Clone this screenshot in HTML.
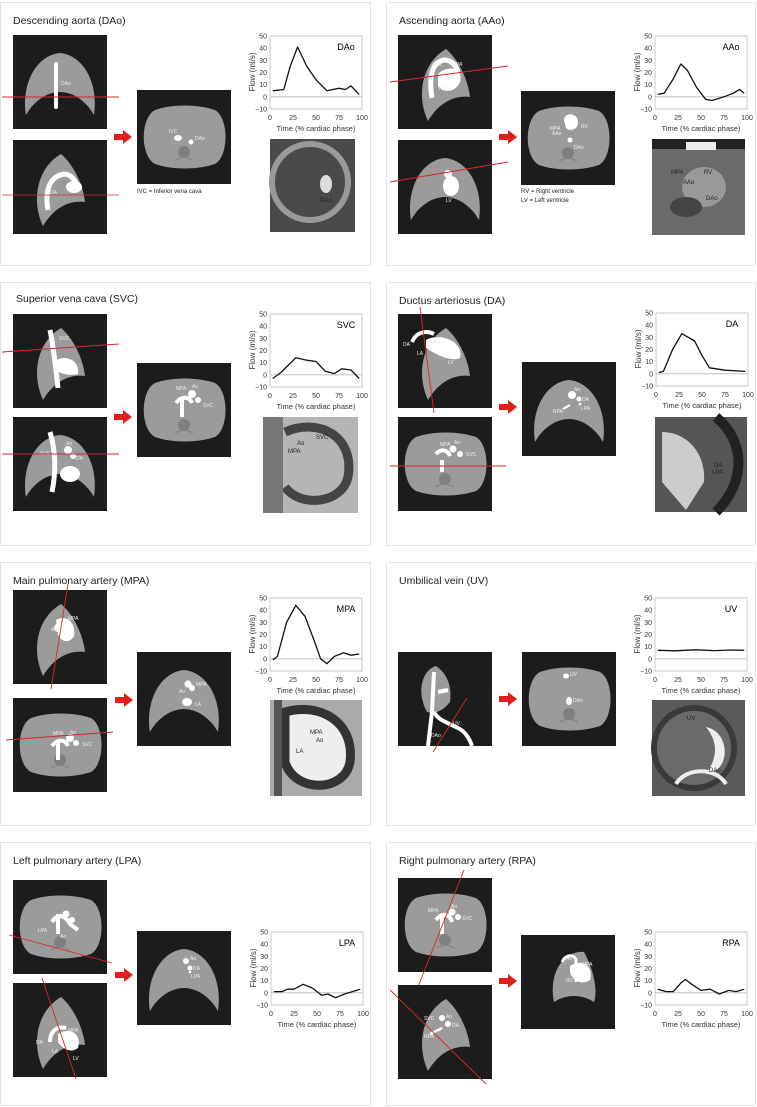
<!DOCTYPE html>
<html><head><meta charset="utf-8"><style>
html,body{margin:0;padding:0;background:#fff;}
svg{display:block;font-family:"Liberation Sans",Arial,sans-serif;}
.t{font-size:10.5px;fill:#222;}
.ax{font-size:7px;fill:#333;}
.lb{font-size:5px;fill:#eee;}
.lk{font-size:6px;fill:#222;}
.cv{fill:none;stroke:#111;stroke-width:1.3;stroke-linejoin:round;}
.rl{stroke:#d8262a;stroke-width:0.9;}
</style></head><body>
<svg width="757" height="1107" viewBox="0 0 757 1107">
<defs>
<symbol id="box" viewBox="0 0 94 94"><rect width="94" height="94" fill="#1c1c1c"/></symbol>
<symbol id="dome" viewBox="0 0 94 94"><rect width="94" height="94" fill="#1c1c1c"/><path d="M13,80 C8,48 24,20 47,18 C70,20 86,48 81,80 C72,64 58,57 47,57 C36,57 22,64 13,80Z" fill="#9b9b9b"/></symbol>
<symbol id="trans" viewBox="0 0 94 94"><rect width="94" height="94" fill="#1c1c1c"/><path d="M18,20 C35,14 60,14 78,20 C92,28 92,66 78,74 C60,80 35,80 18,74 C3,66 3,28 18,20Z" fill="#9b9b9b"/><circle cx="47" cy="62" r="6" fill="#808080"/><path d="M38,70 l9,-4 9,4" stroke="#808080" fill="none" stroke-width="1.2"/></symbol>
<symbol id="sag" viewBox="0 0 94 94"><rect width="94" height="94" fill="#1c1c1c"/><path d="M30,86 C18,60 24,28 48,14 C60,24 70,44 72,62 C58,60 42,66 30,86Z" fill="#9b9b9b"/></symbol>
<symbol id="arr" viewBox="0 0 18 14"><path d="M0,4 H9 V0 L18,7 L9,14 V10 H0Z" fill="#e0201b"/></symbol>
</defs>

<g fill="#fff" stroke="#e4e4e4" stroke-width="1">
<rect x="0.5" y="2.5" width="370" height="263"/>
<rect x="386.5" y="2.5" width="369" height="263"/>
<rect x="0.5" y="282.5" width="370" height="263"/>
<rect x="386.5" y="282.5" width="369" height="263"/>
<rect x="0.5" y="562.5" width="370" height="263"/>
<rect x="386.5" y="562.5" width="369" height="263"/>
<rect x="0.5" y="842.5" width="370" height="263"/>
<rect x="386.5" y="842.5" width="369" height="263"/>
</g>

<!-- P1 DAo -->
<g transform="translate(0,2)">
<text class="t" x="13" y="22">Descending aorta (DAo)</text>
<use href="#dome" x="13" y="33" width="94" height="94"/>
<rect x="54" y="60" width="4" height="47" rx="2" fill="#fff"/>
<text class="lb" x="61" y="83">DAo</text>
<line class="rl" x1="2" y1="95" x2="119" y2="95"/>
<use href="#sag" x="13" y="138" width="94" height="94"/>
<path d="M48,208 C44,185 52,174 64,172 C72,172 76,180 80,188" stroke="#fff" stroke-width="5" fill="none"/>
<ellipse cx="74" cy="185" rx="8" ry="6" fill="#fff"/>
<text class="lb" x="50" y="192">DA</text>
<line class="rl" x1="2" y1="193" x2="119" y2="193" opacity="0.7"/>
<use href="#arr" x="114" y="128" width="18" height="14"/>
<use href="#trans" x="137" y="88" width="94" height="94"/>
<ellipse cx="178" cy="136" rx="4" ry="3" fill="#fff"/><circle cx="191" cy="140" r="2.5" fill="#fff"/>
<text class="lb" x="169" y="131">IVC</text><text class="lb" x="195" y="138">DAo</text>
<text class="lk" x="137" y="191">IVC = Inferior vena cava</text>
<rect x="270" y="137" width="85" height="93" fill="#4a4a4a"/>
<circle cx="310" cy="180" r="38" fill="none" stroke="#999" stroke-width="6"/>
<ellipse cx="326" cy="182" rx="6" ry="9" fill="#ddd"/>
<text class="lk" x="320" y="200" fill="#111">DAo</text>
</g>

<!-- P2 AAo -->
<g transform="translate(386,2)">
<text class="t" x="13" y="22">Ascending aorta (AAo)</text>
<use href="#sag" x="12" y="33" width="94" height="94"/>
<path d="M46,96 C42,70 48,60 58,58 C66,58 70,64 72,70" stroke="#fff" stroke-width="5" fill="none"/>
<path d="M52,72 C62,62 78,66 74,80 C70,90 58,92 52,84Z" fill="#fff"/>
<text class="lb" x="46" y="64">AAo</text><text class="lb" x="66" y="64">MPA</text><text class="lb" x="53" y="88">RV</text>
<line class="rl" x1="4" y1="80" x2="122" y2="64"/>
<use href="#dome" x="12" y="138" width="94" height="94"/>
<ellipse cx="65" cy="184" rx="8" ry="10" fill="#fff"/><circle cx="62" cy="172" r="4" fill="#fff"/>
<text class="lb" x="60" y="200">LV</text>
<line class="rl" x1="4" y1="180" x2="122" y2="160"/>
<use href="#arr" x="113" y="128" width="18" height="14"/>
<use href="#trans" x="135" y="89" width="94" height="94"/>
<path d="M178,118 C178,110 192,110 192,120 C192,128 184,130 180,126Z" fill="#fff"/><circle cx="184" cy="138" r="2.5" fill="#fff"/>
<text class="lb" x="164" y="128">MPA</text><text class="lb" x="166" y="133">AAo</text><text class="lb" x="195" y="126">RV</text><text class="lb" x="188" y="147">DAo</text>
<text class="lk" x="135" y="191">RV = Right ventricle</text>
<text class="lk" x="135" y="200">LV = Left ventricle</text>
<rect x="266" y="137" width="93" height="96" fill="#6a6a6a"/>
<rect x="266" y="137" width="93" height="10" fill="#222"/>
<rect x="300" y="140" width="30" height="8" fill="#eee"/>
<ellipse cx="318" cy="185" rx="22" ry="20" fill="#999"/>
<ellipse cx="300" cy="205" rx="16" ry="10" fill="#444"/>
<text class="lk" x="285" y="172">MPA</text><text class="lk" x="297" y="182">AAo</text><text class="lk" x="318" y="172">RV</text><text class="lk" x="320" y="198">DAo</text>
</g>

<!-- P3 SVC -->
<g transform="translate(0,282)">
<text class="t" x="16" y="20">Superior vena cava (SVC)</text>
<use href="#sag" x="13" y="32" width="94" height="94"/>
<path d="M50,48 C54,68 56,88 58,106" stroke="#fff" stroke-width="5" fill="none"/>
<path d="M56,78 C68,72 80,80 78,92 C70,94 60,92 56,88Z" fill="#fff"/>
<text class="lb" x="59" y="58">SVC</text>
<line class="rl" x1="2" y1="70" x2="119" y2="62"/>
<use href="#dome" x="13" y="135" width="94" height="94"/>
<path d="M50,150 C56,170 56,190 52,210" stroke="#fff" stroke-width="5" fill="none"/>
<circle cx="68" cy="168" r="4" fill="#fff"/><circle cx="73" cy="174" r="3" fill="#fff"/>
<ellipse cx="70" cy="192" rx="10" ry="8" fill="#fff"/>
<text class="lb" x="40" y="173">SVC</text><text class="lb" x="66" y="163">Ao</text><text class="lb" x="76" y="178">DA</text>
<line class="rl" x1="2" y1="172" x2="119" y2="172"/>
<use href="#arr" x="114" y="128" width="18" height="14"/>
<use href="#trans" x="137" y="81" width="94" height="94"/>
<path d="M182,115 L182,135 M176,121 C182,113 190,115 192,121" stroke="#fff" stroke-width="4" fill="none"/>
<circle cx="192" cy="112" r="4" fill="#fff"/><circle cx="198" cy="118" r="3" fill="#fff"/>
<text class="lb" x="176" y="108">MPA</text><text class="lb" x="192" y="106">Ao</text><text class="lb" x="203" y="125">SVC</text>
<rect x="263" y="135" width="95" height="96" fill="#b5b5b5"/>
<path d="M285,150 C320,135 355,155 348,195 C342,222 300,226 285,205" fill="none" stroke="#444" stroke-width="9"/>
<rect x="263" y="135" width="20" height="96" fill="#777"/>
<text class="lk" x="316" y="157">SVC</text><text class="lk" x="297" y="163">Ao</text><text class="lk" x="288" y="171">MPA</text>
</g>

<!-- P4 DA -->
<g transform="translate(386,282)">
<text class="t" x="13" y="22">Ductus arteriosus (DA)</text>
<use href="#sag" x="12" y="32" width="94" height="94"/>
<path d="M26,60 C30,50 40,48 48,52" stroke="#fff" stroke-width="4" fill="none"/>
<path d="M40,58 C55,50 78,60 74,76 C66,80 52,74 40,66Z" fill="#fff"/>
<text class="lb" x="17" y="64">DA</text><text class="lb" x="44" y="62">MPA</text><text class="lb" x="31" y="73">LA</text><text class="lb" x="62" y="82">LV</text>
<line class="rl" x1="34" y1="25" x2="48" y2="131"/>
<use href="#trans" x="12" y="135" width="94" height="94"/>
<path d="M56,178 L56,190 M50,172 C55,166 62,168 64,174" stroke="#fff" stroke-width="4" fill="none"/>
<circle cx="67" cy="167" r="3.5" fill="#fff"/><circle cx="74" cy="172" r="3" fill="#fff"/>
<text class="lb" x="54" y="164">MPA</text><text class="lb" x="68" y="162">Ao</text><text class="lb" x="80" y="174">SVC</text>
<line class="rl" x1="4" y1="184" x2="120" y2="184"/>
<use href="#arr" x="113" y="118" width="18" height="14"/>
<use href="#dome" x="136" y="80" width="94" height="94"/>
<circle cx="186" cy="113" r="4" fill="#fff"/><circle cx="193" cy="117" r="2.5" fill="#fff"/><circle cx="194" cy="122" r="1.3" fill="#fff"/>
<path d="M177,127 L184,123" stroke="#fff" stroke-width="2"/>
<text class="lb" x="188" y="109">Ao</text><text class="lb" x="196" y="119">DA</text><text class="lb" x="167" y="131">RPA</text><text class="lb" x="195" y="128">LPA</text>
<rect x="269" y="135" width="92" height="95" fill="#555"/>
<path d="M276,150 C300,150 320,170 318,200 L300,228 L276,200Z" fill="#ccc"/>
<path d="M330,135 C360,160 360,200 330,230" fill="none" stroke="#222" stroke-width="10"/>
<text class="lk" x="328" y="185" fill="#111">DA</text><text class="lk" x="326" y="192" fill="#111">LPA</text>
</g>

<!-- P5 MPA -->
<g transform="translate(0,562)">
<text class="t" x="13" y="22">Main pulmonary artery (MPA)</text>
<use href="#sag" x="13" y="28" width="94" height="94"/>
<path d="M56,58 C66,52 76,60 74,74 C70,82 60,80 58,72Z" fill="#fff"/><circle cx="58" cy="66" r="4" fill="#fff"/>
<text class="lb" x="68" y="58">MPA</text><text class="lb" x="51" y="69">Ao</text>
<line class="rl" x1="68" y1="22" x2="51" y2="127"/>
<use href="#trans" x="13" y="136" width="94" height="94"/>
<path d="M58,178 L58,198 M52,184 C58,176 66,178 68,184" stroke="#fff" stroke-width="4" fill="none"/>
<circle cx="70" cy="176" r="4" fill="#fff"/><circle cx="76" cy="181" r="3" fill="#fff"/>
<text class="lb" x="53" y="173">MPA</text><text class="lb" x="70" y="172">Ao</text><text class="lb" x="82" y="184">SVC</text>
<line class="rl" x1="6" y1="178" x2="113" y2="170"/>
<use href="#arr" x="115" y="131" width="18" height="14"/>
<use href="#dome" x="137" y="90" width="94" height="94"/>
<circle cx="188" cy="122" r="3.5" fill="#fff"/><circle cx="192" cy="126" r="3" fill="#fff"/><ellipse cx="187" cy="140" rx="5" ry="4" fill="#fff"/>
<text class="lb" x="196" y="124">MPA</text><text class="lb" x="179" y="131">Ao</text><text class="lb" x="195" y="144">LA</text>
<rect x="270" y="138" width="92" height="96" fill="#aaa"/>
<path d="M285,150 C320,140 355,160 350,200 C345,230 295,232 285,200Z" fill="#eee" stroke="#333" stroke-width="9"/>
<path d="M278,138 L278,234" stroke="#555" stroke-width="8"/>
<text class="lk" x="310" y="172" fill="#111">MPA</text><text class="lk" x="316" y="180" fill="#111">Ao</text><text class="lk" x="296" y="191" fill="#111">LA</text>
</g>

<!-- P6 UV -->
<g transform="translate(386,562)">
<text class="t" x="13" y="22">Umbilical vein (UV)</text>
<use href="#box" x="12" y="90" width="94" height="94"/>
<path d="M41,150 C30,130 36,108 50,104 C62,112 66,126 64,140 C56,150 48,152 41,150Z" fill="#9b9b9b"/>
<path d="M48,110 L46,150 M52,130 L62,128 M48,150 C52,158 60,160 72,166 C80,170 84,178 86,184" stroke="#fff" stroke-width="4" fill="none"/>
<path d="M46,150 L42,184" stroke="#fff" stroke-width="4"/>
<text class="lb" x="67" y="163">UV</text><text class="lb" x="45" y="175">DAo</text>
<line class="rl" x1="47" y1="190" x2="81" y2="136"/>
<use href="#arr" x="113" y="130" width="18" height="14"/>
<use href="#trans" x="136" y="90" width="94" height="94"/>
<ellipse cx="180" cy="114" rx="3" ry="2.5" fill="#fff"/><ellipse cx="183" cy="139" rx="3" ry="4" fill="#fff"/>
<text class="lb" x="184" y="114">UV</text><text class="lb" x="187" y="140">DAo</text>
<rect x="266" y="138" width="93" height="96" fill="#5a5a5a"/>
<circle cx="308" cy="186" r="40" fill="#6a6a6a" stroke="#3a3a3a" stroke-width="6"/>
<path d="M320,165 C345,170 345,210 320,212 C332,195 332,180 320,165Z" fill="#eee"/>
<path d="M290,222 C300,205 330,205 340,222" fill="none" stroke="#eee" stroke-width="4"/>
<text class="lk" x="301" y="158" fill="#111">UV</text><text class="lk" x="323" y="210" fill="#111">DAo</text>
</g>

<!-- P7 LPA -->
<g transform="translate(0,842)">
<text class="t" x="13" y="22">Left pulmonary artery (LPA)</text>
<use href="#trans" x="13" y="38" width="94" height="94"/>
<path d="M58,72 L58,92 M52,80 C58,70 66,74 70,82 L78,88" stroke="#fff" stroke-width="4" fill="none"/>
<circle cx="66" cy="72" r="3.5" fill="#fff"/><circle cx="72" cy="78" r="3" fill="#fff"/>
<text class="lb" x="38" y="90">LPA</text><text class="lb" x="60" y="96">Ao</text>
<line class="rl" x1="9" y1="93" x2="112" y2="121"/>
<use href="#sag" x="13" y="141" width="94" height="94"/>
<path d="M50,200 C50,188 58,184 66,186" stroke="#fff" stroke-width="4" fill="none"/>
<path d="M58,192 C70,184 82,192 78,206 C70,212 62,206 58,200Z" fill="#fff"/>
<text class="lb" x="36" y="202">DA</text><text class="lb" x="68" y="190">MPA</text><text class="lb" x="52" y="211">LA</text><text class="lb" x="73" y="218">LV</text>
<line class="rl" x1="42" y1="136" x2="76" y2="237"/>
<use href="#arr" x="115" y="126" width="18" height="14"/>
<use href="#dome" x="137" y="89" width="94" height="94"/>
<circle cx="186" cy="119" r="3" fill="#fff"/><circle cx="190" cy="126" r="2.5" fill="#fff"/><circle cx="190" cy="130" r="1.3" fill="#fff"/>
<text class="lb" x="190" y="118">Ao</text><text class="lb" x="193" y="128">DA</text><text class="lb" x="191" y="136">LPA</text>
</g>

<!-- P8 RPA -->
<g transform="translate(386,842)">
<text class="t" x="13" y="22">Right pulmonary artery (RPA)</text>
<use href="#trans" x="12" y="36" width="94" height="94"/>
<path d="M56,72 L56,92 M50,78 C56,70 64,72 66,80" stroke="#fff" stroke-width="4" fill="none"/>
<circle cx="66" cy="70" r="3.5" fill="#fff"/><circle cx="72" cy="75" r="3" fill="#fff"/>
<text class="lb" x="42" y="70">MPA</text><text class="lb" x="65" y="66">Ao</text><text class="lb" x="76" y="78">SVC</text>
<line class="rl" x1="78" y1="28" x2="30" y2="150"/>
<use href="#sag" x="12" y="143" width="94" height="94"/>
<circle cx="56" cy="176" r="3" fill="#fff"/><circle cx="62" cy="182" r="3" fill="#fff"/>
<path d="M44,192 L56,186" stroke="#fff" stroke-width="2.5"/>
<text class="lb" x="38" y="178">SVC</text><text class="lb" x="60" y="176">Ao</text><text class="lb" x="66" y="185">DA</text><text class="lb" x="38" y="196">RPA</text>
<line class="rl" x1="4" y1="148" x2="100" y2="242"/>
<use href="#arr" x="113" y="132" width="18" height="14"/>
<use href="#box" x="135" y="93" width="94" height="94"/>
<path d="M168,160 C162,128 180,108 198,110 C208,128 212,150 208,160 C196,152 180,152 168,160Z" fill="#9b9b9b"/>
<path d="M176,120 C180,112 188,112 190,118 L190,140" stroke="#fff" stroke-width="3" fill="none"/>
<path d="M184,124 C196,116 208,124 204,138 C196,144 186,138 184,130Z" fill="#fff"/>
<text class="lb" x="180" y="118">Ao</text><text class="lb" x="196" y="124">MPA</text><text class="lb" x="180" y="140">RV</text>
</g>

<!-- charts -->
<g transform="translate(270,36)">
<rect width="92" height="73" fill="none" stroke="#bbb" stroke-width=".8"/><line x1="0" y1="60.8" x2="92" y2="60.8" stroke="#bbb" stroke-width=".8"/>
<g class="ax" text-anchor="end"><text x="-3" y="2.5">50</text><text x="-3" y="14.7">40</text><text x="-3" y="26.8">30</text><text x="-3" y="39">20</text><text x="-3" y="51.2">10</text><text x="-3" y="63.3">0</text><text x="-3" y="75.5">−10</text></g>
<g class="ax" text-anchor="middle"><text x="0" y="84">0</text><text x="23" y="84">25</text><text x="46" y="84">50</text><text x="69" y="84">75</text><text x="92" y="84">100</text><text x="46" y="95" style="font-size:7.5px">Time (% cardiac phase)</text></g>
<text class="ax" style="font-size:8px" text-anchor="middle" transform="translate(-15,36) rotate(-90)">Flow (ml/s)</text>
<text x="76" y="14" style="font-size:9px" text-anchor="middle">DAo</text>
<polyline class="cv" points="2.8,54.8 13.8,53.5 20.2,30.4 27.6,11 36.8,30.4 46,43.8 57,54.8 69,52.3 75.4,53.5 81,49.9 89.2,58.4"/>
</g>
<g transform="translate(655,36)">
<rect width="92" height="73" fill="none" stroke="#bbb" stroke-width=".8"/><line x1="0" y1="60.8" x2="92" y2="60.8" stroke="#bbb" stroke-width=".8"/>
<g class="ax" text-anchor="end"><text x="-3" y="2.5">50</text><text x="-3" y="14.7">40</text><text x="-3" y="26.8">30</text><text x="-3" y="39">20</text><text x="-3" y="51.2">10</text><text x="-3" y="63.3">0</text><text x="-3" y="75.5">−10</text></g>
<g class="ax" text-anchor="middle"><text x="0" y="84">0</text><text x="23" y="84">25</text><text x="46" y="84">50</text><text x="69" y="84">75</text><text x="92" y="84">100</text><text x="46" y="95" style="font-size:7.5px">Time (% cardiac phase)</text></g>
<text class="ax" style="font-size:8px" text-anchor="middle" transform="translate(-15,36) rotate(-90)">Flow (ml/s)</text>
<text x="76" y="14" style="font-size:9px" text-anchor="middle">AAo</text>
<polyline class="cv" points="2.8,58.4 9.2,57.2 18.4,42.6 25.8,28 32.2,34.1 41.4,51.1 50.6,63.3 57,64.5 69,60.8 78.2,57.2 84.6,53.5 89.2,57.2"/>
</g>
<g transform="translate(270,314)">
<rect width="92" height="73" fill="none" stroke="#bbb" stroke-width=".8"/><line x1="0" y1="60.8" x2="92" y2="60.8" stroke="#bbb" stroke-width=".8"/>
<g class="ax" text-anchor="end"><text x="-3" y="2.5">50</text><text x="-3" y="14.7">40</text><text x="-3" y="26.8">30</text><text x="-3" y="39">20</text><text x="-3" y="51.2">10</text><text x="-3" y="63.3">0</text><text x="-3" y="75.5">−10</text></g>
<g class="ax" text-anchor="middle"><text x="0" y="84">0</text><text x="23" y="84">25</text><text x="46" y="84">50</text><text x="69" y="84">75</text><text x="92" y="84">100</text><text x="46" y="95" style="font-size:7.5px">Time (% cardiac phase)</text></g>
<text class="ax" style="font-size:8px" text-anchor="middle" transform="translate(-15,36) rotate(-90)">Flow (ml/s)</text>
<text x="76" y="14" style="font-size:9px" text-anchor="middle">SVC</text>
<polyline class="cv" points="2.8,64.5 11,58.4 18.4,51.1 25.8,43.8 36.8,46.2 46,47.5 55.2,57.2 64.4,59.6 71.8,54.8 81,56 89.2,64.5"/>
</g>
<g transform="translate(656,313)">
<rect width="92" height="73" fill="none" stroke="#bbb" stroke-width=".8"/><line x1="0" y1="60.8" x2="92" y2="60.8" stroke="#bbb" stroke-width=".8"/>
<g class="ax" text-anchor="end"><text x="-3" y="2.5">50</text><text x="-3" y="14.7">40</text><text x="-3" y="26.8">30</text><text x="-3" y="39">20</text><text x="-3" y="51.2">10</text><text x="-3" y="63.3">0</text><text x="-3" y="75.5">−10</text></g>
<g class="ax" text-anchor="middle"><text x="0" y="84">0</text><text x="23" y="84">25</text><text x="46" y="84">50</text><text x="69" y="84">75</text><text x="92" y="84">100</text><text x="46" y="95" style="font-size:7.5px">Time (% cardiac phase)</text></g>
<text class="ax" style="font-size:8px" text-anchor="middle" transform="translate(-15,36) rotate(-90)">Flow (ml/s)</text>
<text x="76" y="14" style="font-size:9px" text-anchor="middle">DA</text>
<polyline class="cv" points="2.8,59.6 7.4,58.4 16.6,36.5 25.8,20.7 32.2,24.3 38.6,28 46,42.6 53.4,54.8 69,57.2 89.2,58.4"/>
</g>
<g transform="translate(270,598)">
<rect width="92" height="73" fill="none" stroke="#bbb" stroke-width=".8"/><line x1="0" y1="60.8" x2="92" y2="60.8" stroke="#bbb" stroke-width=".8"/>
<g class="ax" text-anchor="end"><text x="-3" y="2.5">50</text><text x="-3" y="14.7">40</text><text x="-3" y="26.8">30</text><text x="-3" y="39">20</text><text x="-3" y="51.2">10</text><text x="-3" y="63.3">0</text><text x="-3" y="75.5">−10</text></g>
<g class="ax" text-anchor="middle"><text x="0" y="84">0</text><text x="23" y="84">25</text><text x="46" y="84">50</text><text x="69" y="84">75</text><text x="92" y="84">100</text><text x="46" y="95" style="font-size:7.5px">Time (% cardiac phase)</text></g>
<text class="ax" style="font-size:8px" text-anchor="middle" transform="translate(-15,36) rotate(-90)">Flow (ml/s)</text>
<text x="76" y="14" style="font-size:9px" text-anchor="middle">MPA</text>
<polyline class="cv" points="2.8,62 7.4,58.4 16.6,24.3 25.8,7.3 35,18.3 44.2,42.6 50.6,60.8 57,65.7 64.4,58.4 73.6,54.8 81,57.2 89.2,56"/>
</g>
<g transform="translate(655,598)">
<rect width="92" height="73" fill="none" stroke="#bbb" stroke-width=".8"/><line x1="0" y1="60.8" x2="92" y2="60.8" stroke="#bbb" stroke-width=".8"/>
<g class="ax" text-anchor="end"><text x="-3" y="2.5">50</text><text x="-3" y="14.7">40</text><text x="-3" y="26.8">30</text><text x="-3" y="39">20</text><text x="-3" y="51.2">10</text><text x="-3" y="63.3">0</text><text x="-3" y="75.5">−10</text></g>
<g class="ax" text-anchor="middle"><text x="0" y="84">0</text><text x="23" y="84">25</text><text x="46" y="84">50</text><text x="69" y="84">75</text><text x="92" y="84">100</text><text x="46" y="95" style="font-size:7.5px">Time (% cardiac phase)</text></g>
<text class="ax" style="font-size:8px" text-anchor="middle" transform="translate(-15,36) rotate(-90)">Flow (ml/s)</text>
<text x="76" y="14" style="font-size:9px" text-anchor="middle">UV</text>
<polyline class="cv" points="2.8,52.3 20,52.8 40,51.8 60,52.6 75,52 89.2,52.3"/>
</g>
<g transform="translate(271,932)">
<rect width="92" height="73" fill="none" stroke="#bbb" stroke-width=".8"/><line x1="0" y1="60.8" x2="92" y2="60.8" stroke="#bbb" stroke-width=".8"/>
<g class="ax" text-anchor="end"><text x="-3" y="2.5">50</text><text x="-3" y="14.7">40</text><text x="-3" y="26.8">30</text><text x="-3" y="39">20</text><text x="-3" y="51.2">10</text><text x="-3" y="63.3">0</text><text x="-3" y="75.5">−10</text></g>
<g class="ax" text-anchor="middle"><text x="0" y="84">0</text><text x="23" y="84">25</text><text x="46" y="84">50</text><text x="69" y="84">75</text><text x="92" y="84">100</text><text x="46" y="95" style="font-size:7.5px">Time (% cardiac phase)</text></g>
<text class="ax" style="font-size:8px" text-anchor="middle" transform="translate(-15,36) rotate(-90)">Flow (ml/s)</text>
<text x="76" y="14" style="font-size:9px" text-anchor="middle">LPA</text>
<polyline class="cv" points="2.8,59.6 11,59.6 16.6,57.2 23,57.2 32.2,52.3 41.4,56 50.6,63.3 57,62 64.4,65.7 73.6,62 89.2,57.2"/>
</g>
<g transform="translate(655,932)">
<rect width="92" height="73" fill="none" stroke="#bbb" stroke-width=".8"/><line x1="0" y1="60.8" x2="92" y2="60.8" stroke="#bbb" stroke-width=".8"/>
<g class="ax" text-anchor="end"><text x="-3" y="2.5">50</text><text x="-3" y="14.7">40</text><text x="-3" y="26.8">30</text><text x="-3" y="39">20</text><text x="-3" y="51.2">10</text><text x="-3" y="63.3">0</text><text x="-3" y="75.5">−10</text></g>
<g class="ax" text-anchor="middle"><text x="0" y="84">0</text><text x="23" y="84">25</text><text x="46" y="84">50</text><text x="69" y="84">75</text><text x="92" y="84">100</text><text x="46" y="95" style="font-size:7.5px">Time (% cardiac phase)</text></g>
<text class="ax" style="font-size:8px" text-anchor="middle" transform="translate(-15,36) rotate(-90)">Flow (ml/s)</text>
<text x="76" y="14" style="font-size:9px" text-anchor="middle">RPA</text>
<polyline class="cv" points="2.8,57.2 11,59.6 18.4,59.6 25.8,51.1 30.4,47.5 36.8,52.3 46,58.4 55.2,57.2 64.4,62 73.6,58.4 81,59.6 89.2,57.2"/>
</g>
</svg>
</body></html>
